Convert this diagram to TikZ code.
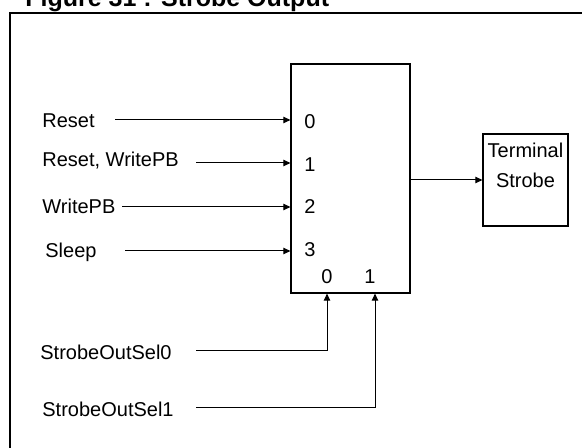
\documentclass[tikz,border=0pt]{standalone}
\usepackage{fontspec}
\setmainfont{Liberation Sans}
\usetikzlibrary{arrows.meta}

\begin{document}
\begin{tikzpicture}[
  x=0.5pt, y=-0.5pt,
  font=\fontsize{10}{15}\selectfont,
  blk/.style={draw, line width=0.6pt, inner sep=0pt},
  sig/.style={anchor=base west, inner sep=0pt},
  port/.style={inner sep=0pt},
  arrow/.style={-{Triangle[length=3.5pt,width=3.2pt]}, line width=0.5pt}
]
\useasboundingbox (0,0) rectangle (582,448);

\node[anchor=base west, inner sep=0pt, font=\fontsize{12.5}{15}\selectfont\bfseries] (title) at (25,7) {Figure 31 : Strobe Output};
\draw[line width=0.9pt] (582,13) -- (10,13) -- (10,448);

\node[blk, minimum width=59.5pt, minimum height=114.5pt] (mux) at (350.5,178.5) {};
\node[blk, minimum width=42.5pt, minimum height=46pt] (term) at (525.5,180) {};
\node[anchor=north, inner sep=0pt, align=center] (termtxt) at ([yshift=-4.5pt]term.north) {Terminal\\Strobe};

\node[port] (i0) at (310,122) {0};
\node[port] (i1) at (310,165) {1};
\node[port] (i2) at (310,207) {2};
\node[port] (i3) at (310,250) {3};
\node[port] (b0) at (327,277) {0};
\node[port] (b1) at (370,277) {1};

\node[sig] (reset) at (42,128) {Reset};
\node[sig] (resetwr) at (42,167) {Reset, WritePB};
\node[sig] (writepb) at (42,214) {WritePB};
\node[sig] (sleep) at (45,257) {Sleep};
\node[sig] (sel0) at (40,359) {StrobeOutSel0};
\node[sig] (sel1) at (42,416) {StrobeOutSel1};

\coordinate (a0) at (115,120);
\coordinate (a1) at (196,163);
\coordinate (a2) at (122,207);
\coordinate (a3) at (125,251);
\coordinate (c0) at (196,350);
\coordinate (c1) at (196,407);

\draw[arrow] (a0) -- (a0 -| mux.west);
\draw[arrow] (a1) -- (a1 -| mux.west);
\draw[arrow] (a2) -- (a2 -| mux.west);
\draw[arrow] (a3) -- (a3 -| mux.west);
\draw[arrow] (c0) -| (b0 |- mux.south);
\draw[arrow] (c1) -| ([xshift=2.5pt]b1 |- mux.south);
\draw[arrow] (mux.east |- term.west) -- (term.west);

\end{tikzpicture}
\end{document}
